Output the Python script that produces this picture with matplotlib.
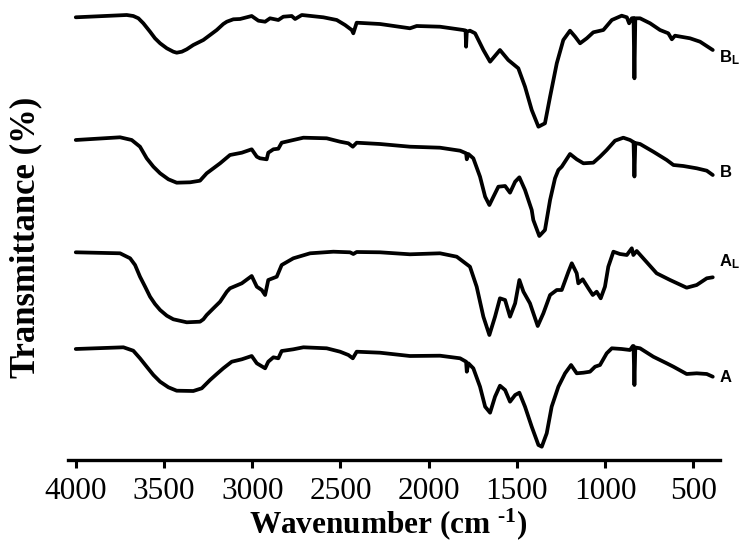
import matplotlib
matplotlib.use("Agg")
import matplotlib.pyplot as plt

plt.rcParams['mathtext.fontset'] = 'custom'
plt.rcParams['mathtext.rm'] = 'Liberation Serif:bold'
plt.rcParams['mathtext.bf'] = 'Liberation Serif:bold'
plt.rcParams['mathtext.it'] = 'Liberation Serif:bold'
plt.rcParams['mathtext.sf'] = 'Liberation Sans:bold'

# ---- data (wavenumber in cm^-1, stacked transmittance in arbitrary units) ----
wn_BL = [4000, 3711, 3674, 3645, 3617, 3579, 3551, 3522, 3484, 3447, 3428, 3399, 3371, 3334, 3277,
         3239, 3201, 3164, 3144, 3107, 3069, 3003, 2965, 2927,
         2899, 2852, 2824, 2776, 2757, 2719, 2597, 2521, 2474, 2436, 2427, 2408, 2276, 2106,
         2068, 1936, 1804, 1791, 1788, 1784, 1766, 1737, 1690, 1652, 1596, 1549, 1492, 1454,
         1416, 1378, 1341, 1312, 1274, 1237, 1199, 1170, 1142, 1104, 1067, 1010, 962, 906,
         877, 864, 849, 839, 834, 829, 821, 802, 745, 689, 642, 622, 604, 519, 462, 390]
T_BL = [442.7, 445, 444, 441.7, 436.7, 428.3, 421.7, 416.7, 411.7, 408.3, 407.3, 408.3, 410.7, 415, 420,
        425, 430, 436, 438.3, 440.7, 441, 444, 439.3, 438.3,
        441.7, 440, 443.3, 444, 441, 445, 442.7, 440, 435, 430, 426.7, 437.3, 436, 431.7,
        434, 433.3, 430, 429.5, 413.3, 428.3, 429.3, 426.7, 410, 398.3, 410, 400, 391.7, 373.3,
        350, 333.3, 336.7, 363.3, 396.7, 420, 429.3, 423.3, 416.7, 421.7, 427.7, 430, 440, 444.3,
        442.7, 436.7, 441.7, 442, 381.7, 441.7, 441.7, 441.7, 436.7, 430, 426.7, 420.7, 424.3, 421.7, 418.3, 410]

wn_B = [4000, 3749, 3683, 3636, 3598, 3560, 3522, 3475, 3428, 3352, 3296, 3258, 3220, 3182, 3126, 3059, 3003, 2974,
        2956, 2918, 2909, 2880, 2852, 2833, 2767, 2710, 2578, 2502, 2455, 2430, 2408, 2276,
        2106, 1936, 1822, 1788, 1784, 1775, 1747, 1709, 1680, 1656, 1633, 1605, 1567, 1539,
        1510, 1486, 1454, 1416, 1407, 1373, 1341, 1312, 1284, 1265, 1246, 1199, 1161, 1123,
        1067, 1029, 991, 944, 897, 859, 843, 839, 834, 829, 821, 802, 727, 651, 613, 557, 481, 424, 390]
T_B = [320, 322.7, 320, 313.3, 301.7, 293.3, 286.7, 280.7, 277.3, 277.7, 279.3, 286.7, 291.7, 296.7, 305, 307.3, 310.7, 303.3,
       301.7, 300.7, 307.3, 310.7, 311.3, 317.3, 320, 322.3, 321.7, 318.3, 316.7, 313.3, 317.3, 316,
       313.3, 312.3, 309.3, 306.7, 300.7, 306, 301.7, 283.3, 263.3, 255, 263.3, 273.3, 274, 267.3,
       278.3, 282.7, 270, 250, 240, 224, 230, 260, 281.7, 290, 293.3, 306, 300.7, 296.7,
       297.3, 303.3, 310, 319.3, 322.3, 320, 318.3, 318, 283.5, 317, 316.7, 316, 308.3, 300, 295, 294, 291.7, 289.3, 285]

wn_AL = [4000, 3749, 3692, 3664, 3636, 3607, 3579, 3551, 3522, 3484, 3447, 3371, 3296, 3277, 3258, 3220,
         3182, 3144, 3126, 3059, 3003,
         2974, 2946, 2927, 2909, 2861, 2833, 2767, 2672, 2540, 2446, 2427, 2408, 2276, 2106,
         1936, 1841, 1766, 1728, 1690, 1656, 1624, 1596, 1567, 1539, 1510, 1486, 1463, 1426,
         1382, 1350, 1312, 1274, 1246, 1208, 1189, 1161, 1152, 1127, 1095, 1070, 1048, 1025,
         1001, 982, 953, 916, 877, 849, 840, 821, 784, 708, 632, 538, 481, 424, 390]
T_AL = [207.7, 206.7, 201.7, 195, 183.3, 173.3, 163.3, 156, 150, 144.3, 140.7, 137.7, 138.3, 140.7, 145, 151.7,
        158.3, 168.3, 171.7, 176.7, 184,
        173.3, 170, 165, 180, 183.3, 195, 201.7, 206.7, 208.3, 207.7, 206, 208, 207.7, 205.7,
        206.7, 203.3, 193.3, 173.3, 143.3, 125, 143.3, 161.7, 160, 143.3, 156.7, 180, 168.3, 156.7,
        134, 146.7, 165, 170, 170, 188.3, 196.7, 186.7, 176.7, 180.7, 171.7, 165, 168.3, 161.7,
        173.3, 193.3, 208.3, 206, 205, 211.7, 205, 209, 201.7, 186.7, 180, 172.3, 175, 181.7, 182.7]

wn_A = [4000, 3730, 3674, 3636, 3598, 3560, 3522, 3475, 3428, 3334, 3286, 3239, 3201, 3164, 3116, 3059, 3003, 2974,
        2927, 2909, 2880, 2852, 2833, 2767, 2710, 2578, 2502, 2455, 2430, 2408, 2276, 2106,
        1936, 1822, 1788, 1784, 1775, 1747, 1709, 1680, 1652, 1624, 1596, 1567, 1539, 1510,
        1486, 1454, 1416, 1378, 1359, 1331, 1303, 1265, 1227, 1193, 1161, 1123, 1086, 1057,
        1029, 991, 962, 906, 859, 843, 839, 834, 829, 821, 802, 727, 651, 613, 538, 481, 424, 390]
T_A = [111, 112.7, 109.3, 101.7, 93.3, 85, 78.3, 72.7, 69.3, 69, 71.7, 80, 86, 91.7, 98.3, 100.7, 104, 96.7,
       91.7, 98.3, 102.7, 101.7, 109, 110.7, 112.7, 111.7, 108.3, 105, 101.7, 108.3, 107.3, 104,
       104.3, 101.7, 98.3, 88.3, 96.7, 91.7, 73.3, 53.3, 47.3, 63.3, 74.3, 70, 58.3, 65,
       67.3, 53.3, 33.3, 15, 13.3, 26.7, 53.3, 73.3, 86.7, 95, 86.7, 87.3, 88.3, 93.3,
       95, 106.7, 111.7, 111, 110, 114, 114, 75, 112.5, 112.3, 111.7, 103.3, 96.7, 93.3, 86, 86.7, 86, 83.3]

series = [(wn_BL, T_BL), (wn_B, T_B), (wn_AL, T_AL), (wn_A, T_A)]
sample_labels = [r"$\mathsf{B}_{\mathsf{L}}$", r"$\mathsf{B}$", r"$\mathsf{A}_{\mathsf{L}}$", r"$\mathsf{A}$"]

xticks = [4000, 3500, 3000, 2500, 2000, 1500, 1000, 500]

W, H = 742, 542
fig = plt.figure(figsize=(W / 100, H / 100), dpi=100)
ax = fig.add_axes([68 / W, 1 - 460 / H, (720 - 68) / W, 460 / H])

for wn, t in series:
    ax.plot(wn, t, color='black', lw=2.7, solid_joinstyle='round', solid_capstyle='round')

ax.set_xlim(4044, 349)
ax.set_ylim(0, 460)
ax.set_xticks(xticks)
ax.set_xticklabels([str(v) for v in xticks], fontfamily='Liberation Serif', fontsize=22.5)
ax.set_yticks([])
for s in ['top', 'right', 'left']:
    ax.spines[s].set_visible(False)
ax.spines['bottom'].set_linewidth(2.4)
ax.tick_params(axis='x', direction='out', length=6, width=2.2, pad=6)

# sample labels (baseline positions in pixels from top)
label_base = [63, 177, 267, 382]
for lab, yy in zip(sample_labels, label_base):
    fig.text(719 / W, 1 - yy / H, lab, fontsize=12, va='baseline', ha='left')

fig.text(388 / W, 1 - 524 / H, r"Wavenumber (cm $^{\text{-1}}$)", fontfamily='Liberation Serif',
         fontweight='bold', fontsize=22.5, ha='center', va='center')
fig.text(26 / W, 1 - 237 / H, "Transmittance (%)", fontfamily='Liberation Serif',
         fontweight='bold', fontsize=25, ha='center', va='center', rotation=90)

fig.savefig("out.png", dpi=100)
